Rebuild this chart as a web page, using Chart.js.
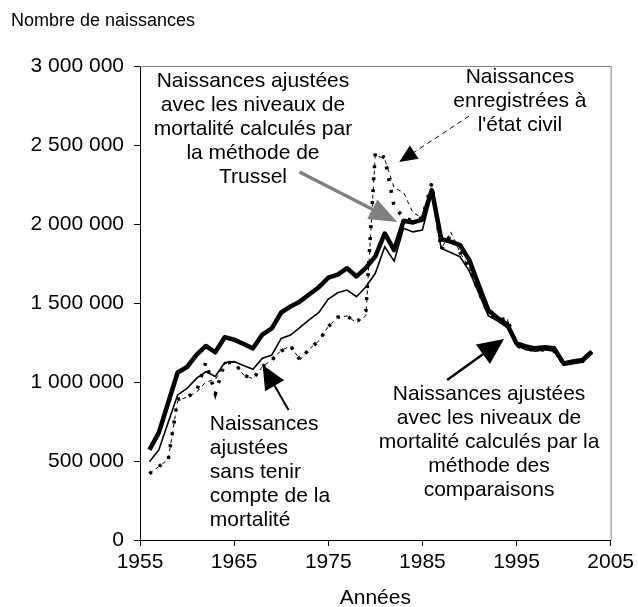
<!DOCTYPE html>
<html><head><meta charset="utf-8">
<script src="https://cdn.jsdelivr.net/npm/chart.js@4.4.1/dist/chart.umd.min.js"></script>
<style>html,body{margin:0;padding:0;background:#fff}canvas{display:block}</style>
</head><body>
<canvas id="c" width="638" height="607"></canvas>
<script>
const years = [1956,1957,1958,1959,1960,1961,1962,1963,1964,1965,1966,1967,1968,1969,1970,1971,1972,1973,1974,1975,1976,1977,1978,1979,1980,1981,1982,1983,1984,1985,1986,1987,1988,1989,1990,1991,1992,1993,1994,1995,1996,1997,1998,1999,2000,2001,2002,2003];
// Naissances ajustées - méthode des comparaisons (trait épais)
const ajusteesComparaisons = [570000,680000,870000,1060000,1095000,1171000,1228000,1188000,1283000,1268000,1240000,1213000,1300000,1340000,1440000,1478000,1510000,1555000,1600000,1660000,1680000,1720000,1668000,1722000,1795000,1940000,1835000,2020000,2010000,2028000,2215000,1905000,1888000,1867000,1770000,1610000,1455000,1405000,1365000,1245000,1225000,1213000,1220000,1213000,1118000,1130000,1139000,1192000];
// Naissances ajustées - méthode de Trussel (trait fin)
const ajusteesTrussel = [496000,570000,745000,918000,960000,1023000,1065000,1035000,1123000,1130000,1105000,1080000,1150000,1171000,1276000,1297000,1346000,1395000,1440000,1525000,1565000,1582000,1540000,1603000,1688000,1856000,1765000,1973000,1950000,1962000,2194000,1846000,1820000,1793000,1700000,1560000,1420000,1385000,1345000,1230000,1205000,1195000,1205000,1195000,1105000,1115000,1125000,1180000];
// Naissances ajustées sans tenir compte de la mortalité (tirets)
const ajusteesSansMortalite = [420000,465000,510000,880000,905000,935000,1000000,1015000,1115000,1125000,1045000,1020000,1097000,1140000,1200000,1228000,1140000,1210000,1260000,1350000,1410000,1418000,1375000,1420000,2440000,2410000,2230000,2200000,2070000,2040000,2250000,1840000,1950000,1820000,1720000,1570000,1430000,1390000,1400000,1230000,1210000,1200000,1205000,1195000,1115000,1125000,1130000,1190000];
// Naissances enregistrées à l'état civil (pointillés)
const etatCivil = [420000,465000,510000,890000,905000,940000,1125000,925000,1120000,1125000,1045000,1020000,1097000,1140000,1195000,1228000,1140000,1210000,1260000,1350000,1410000,1418000,1375000,1450000,2455000,2420000,2110000,2040000,2020000,2040000,2260000,1835000,1930000,1820000,1720000,1570000,1430000,1390000,1405000,1230000,1210000,1200000,1205000,1195000,1115000,1125000,1130000,1190000];
const xTicks = [1955,1965,1975,1985,1995,2005];
const yTicks = [0,500000,1000000,1500000,2000000,2500000,3000000];

const FONT = '"Liberation Sans", Arial, sans-serif';
const pts = v => years.map((y,i)=>({x:y,y:v[i]}));
const fmt = v => String(v).replace(/\B(?=(\d{3})+(?!\d))/g,' ');

const annotations = {
  id:'annot',
  beforeDatasetsDraw(chart){
    const {ctx, chartArea:a} = chart;
    ctx.save();
    ctx.strokeStyle='#808080'; ctx.lineWidth=1;
    ctx.beginPath();
    ctx.moveTo(a.left, a.top+0.5); ctx.lineTo(a.right+0.5, a.top+0.5); ctx.lineTo(a.right+0.5, a.bottom);
    ctx.stroke();
    ctx.restore();
  },
  afterDatasetsDraw(chart){
    const {ctx, scales:{x,y}} = chart;
    const X = v=>x.getPixelForValue(v), Y = v=>y.getPixelForValue(v);
    const step = 152000;
    ctx.save();
    ctx.fillStyle='#000';
    ctx.font = '21px '+FONT;
    ctx.textBaseline='alphabetic';
    const block = (lines, xv, yv, align)=>{
      ctx.textAlign = align;
      lines.forEach((t,i)=>ctx.fillText(t, X(xv), Y(yv - i*step)));
    };
    block(['Naissances ajustées','avec les niveaux de','mortalité calculés par','la méthode de','Trussel'], 1967.0, 2867000, 'center');
    block(['Naissances','enregistrées à',"l'état civil"], 1995.36, 2892000, 'center');
    block(['Naissances','ajustées','sans tenir','compte de la','mortalité'], 1962.42, 696000, 'left');
    block(['Naissances ajustées','avec les niveaux de','mortalité calculés par la','méthode des','comparaisons'], 1992.08, 886000, 'center');

    const arrow = (x1,y1,x2,y2,color,width,headLen,headW,dash)=>{
      const px1=X(x1), py1=Y(y1), px2=X(x2), py2=Y(y2);
      const ang = Math.atan2(py2-py1, px2-px1);
      const bx = px2 - headLen*Math.cos(ang), by = py2 - headLen*Math.sin(ang);
      ctx.save();
      ctx.strokeStyle=color; ctx.fillStyle=color; ctx.lineWidth=width;
      ctx.setLineDash(dash||[]);
      ctx.beginPath(); ctx.moveTo(px1,py1); ctx.lineTo(bx,by); ctx.stroke();
      ctx.setLineDash([]);
      ctx.beginPath();
      ctx.moveTo(px2,py2);
      ctx.lineTo(bx + headW*Math.sin(ang), by - headW*Math.cos(ang));
      ctx.lineTo(bx - headW*Math.sin(ang), by + headW*Math.cos(ang));
      ctx.closePath(); ctx.fill();
      ctx.restore();
    };
    arrow(1971.95, 2329000, 1982.33, 2013000, '#808080', 3.5, 28, 11);
    arrow(1989.96, 2683000, 1982.54, 2392000, '#000', 1, 18, 8, [5,4]);
    arrow(1970.78, 823000, 1968.03, 1108000, '#000', 2, 24, 11);
    arrow(1987.63, 1013000, 1993.67, 1272000, '#000', 2.5, 26, 12);
    ctx.restore();
  },
  afterDraw(chart){
    const {ctx, chartArea:a} = chart;
    ctx.save();
    ctx.fillStyle='#000';
    ctx.font='18px '+FONT;
    ctx.textAlign='left'; ctx.textBaseline='alphabetic';
    ctx.fillText('Nombre de naissances', 11, 26);
    ctx.font='21px '+FONT;
    ctx.textAlign='center';
    ctx.fillText('Années', (a.left+a.right)/2, 604);
    ctx.restore();
  }
};

new Chart(document.getElementById('c'), {
  type:'line',
  data:{datasets:[
    {label:'Naissances ajustées (comparaisons)', data:pts(ajusteesComparaisons), borderColor:'#000', borderWidth:4.5, pointRadius:0, tension:0, borderJoinStyle:'round'},
    {label:'Naissances ajustées (Trussel)', data:pts(ajusteesTrussel), borderColor:'#000', borderWidth:1.6, pointRadius:0, tension:0},
    {label:'Naissances ajustées sans mortalité', data:pts(ajusteesSansMortalite), borderColor:'#000', borderWidth:1, borderDash:[4,4], pointRadius:0, tension:0},
    {label:"Naissances enregistrées à l'état civil", data:pts(etatCivil), borderColor:'#000', borderWidth:3.5, borderDash:[3,9], borderCapStyle:'butt', pointRadius:0, tension:0}
  ]},
  options:{
    responsive:false, animation:false, devicePixelRatio:1,
    layout:{padding:{left:0,right:26,top:66,bottom:0}},
    plugins:{legend:{display:false}, tooltip:{enabled:false}},
    scales:{
      x:{type:'linear', min:1955, max:2005,
        afterBuildTicks(s){ s.ticks = xTicks.map(v=>({value:v})); },
        afterFit(s){ s.height = 67; },
        ticks:{color:'#000', font:{family:FONT, size:21}, padding:4, maxRotation:0, autoSkip:false, callback:v=>String(v)},
        grid:{drawOnChartArea:false, drawTicks:true, tickLength:6, color:'#000'},
        border:{display:true, color:'#000', width:1}
      },
      y:{type:'linear', min:0, max:3000000,
        afterBuildTicks(s){ s.ticks = yTicks.map(v=>({value:v})); },
        afterFit(s){ s.width = 140; },
        ticks:{color:'#000', font:{family:FONT, size:21}, padding:10, callback:v=>fmt(v)},
        grid:{drawOnChartArea:false, drawTicks:true, tickLength:6, color:'#000'},
        border:{display:true, color:'#000', width:1}
      }
    }
  },
  plugins:[annotations]
});
</script>
</body></html>
